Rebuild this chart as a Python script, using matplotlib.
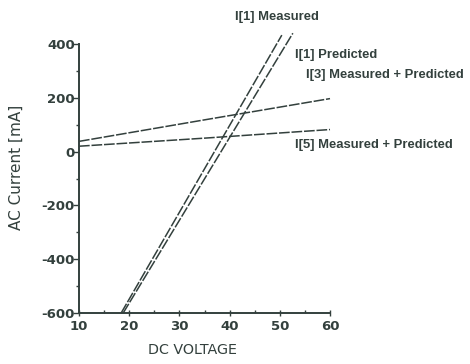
import matplotlib
matplotlib.use("Agg")
import matplotlib.pyplot as plt
from matplotlib.ticker import MultipleLocator

plt.rcParams['font.family'] = ['DejaVu Sans']
plt.rcParams['axes.unicode_minus'] = False

# Data
i1_meas_v = [18.4, 50.4]
i1_meas_i = [-600, 433]
i1_pred_v = [18.8, 52.6]
i1_pred_i = [-600, 440]
i3_v = [10, 35, 60]
i3_i = [38, 118, 197]
i5_v = [10, 35, 60]
i5_i = [20, 50, 82]

x_ticks = [10, 20, 30, 40, 50, 60]
y_ticks = [-600, -400, -200, 0, 200, 400]

ink = '#33403d'

fig = plt.figure(figsize=(4.7, 3.64), dpi=100)
ax = fig.add_axes([79/470, 1-313/364, 251/470, 269/364])

ls = (0, (7, 1.2))
for v, i in [(i1_meas_v, i1_meas_i), (i1_pred_v, i1_pred_i), (i3_v, i3_i), (i5_v, i5_i)]:
    ax.plot(v, i, color=ink, lw=1.1, ls=ls, clip_on=False)

ax.set_xlim(10, 60)
ax.set_ylim(-600, 400)
ax.set_xticks(x_ticks)
ax.set_yticks(y_ticks)
ax.yaxis.set_minor_locator(MultipleLocator(100))
ax.xaxis.set_minor_locator(MultipleLocator(5))
for s in ['top', 'right']:
    ax.spines[s].set_visible(False)
for s in ['left', 'bottom']:
    ax.spines[s].set_color(ink)
    ax.spines[s].set_linewidth(1.4)
ax.tick_params(axis='y', which='major', direction='out', length=4, width=1, color=ink,
               labelsize=9.5, labelcolor=ink, pad=-1)
ax.tick_params(axis='y', which='minor', direction='out', length=2, width=1, color=ink)
ax.tick_params(axis='x', which='major', direction='inout', length=4, width=1, color=ink,
               labelsize=9.5, labelcolor=ink, pad=3)
ax.tick_params(axis='x', which='minor', direction='in', length=2, width=1, color=ink)
for lbl in ax.get_xticklabels() + ax.get_yticklabels():
    lbl.set_fontweight('bold')

ax.set_xlabel('DC VOLTAGE', fontsize=10.3, color=ink)
ax.xaxis.set_label_coords(192/470, 1-343/364, transform=fig.transFigure)
ax.set_ylabel('AC Current [mA]', fontsize=11, color=ink)
ax.yaxis.set_label_coords(24/470, 1-167/364, transform=fig.transFigure)

kw = dict(fontsize=9.4, color=ink, ha='left', va='center', fontweight='bold',
          family=['Liberation Sans', 'DejaVu Sans'])
fig.text(235/470, 1-17/364, 'I[1] Measured', **kw)
fig.text(295/470, 1-55/364, 'I[1] Predicted', **kw)
fig.text(306/470, 1-75/364, 'I[3] Measured + Predicted', **kw)
fig.text(295/470, 1-145/364, 'I[5] Measured + Predicted', **kw)

fig.savefig('out.png', dpi=100, facecolor='white')
